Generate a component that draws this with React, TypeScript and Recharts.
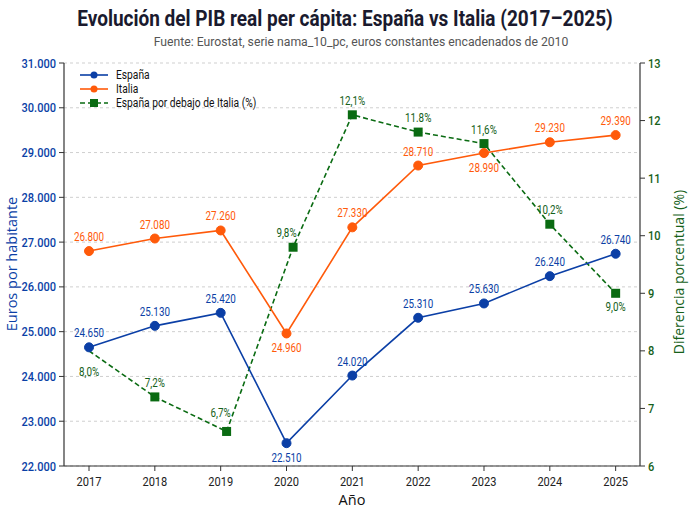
import React from 'react';
import { ComposedChart, Line, XAxis, YAxis, CartesianGrid, LabelList } from 'recharts';

const YEARS = [2017, 2018, 2019, 2020, 2021, 2022, 2023, 2024, 2025];
const ESPANA = [24650, 25130, 25420, 22510, 24020, 25310, 25630, 26240, 26740];
const ITALIA = [26800, 27080, 27260, 24960, 27330, 28710, 28990, 29230, 29390];
const DIFERENCIA = [8.0, 7.2, 6.6, 9.8, 12.1, 11.8, 11.6, 10.2, 9.0];
const DIF_X = [2017, 2018, 2019.09, 2020.1, 2021, 2022, 2023, 2024, 2025];
const DIF_LABELS = ['8,0%', '7,2%', '6,7%', '9,8%', '12,1%', '11.8%', '11,6%', '10,2%', '9,0%'];
const LEFT_TICKS = [22000, 23000, 24000, 25000, 26000, 27000, 28000, 29000, 30000, 31000];
const RIGHT_TICKS = [6, 7, 8, 9, 10, 11, 12, 13];

const BLUE = '#0b3fa6';
const ORANGE = '#ff5a0a';
const GREEN = '#0a6b12';
const GREEN_TXT = '#16611a';
const FONT = "Roboto, 'Noto Sans', sans-serif";
const WIDE = "'Open Sans', 'DejaVu Sans', sans-serif";
const SX = 0.82;

const espData = YEARS.map((y, i) => ({ year: y, v: ESPANA[i] }));
const itaData = YEARS.map((y, i) => ({ year: y, v: ITALIA[i] }));
const difData = DIF_X.map((x, i) => ({ year: x, v: DIFERENCIA[i] }));
const difLabelData = YEARS.map((y, i) => ({ year: y, v: DIFERENCIA[i] }));

const fmtThousands = (n: number) => n.toLocaleString('de-DE');

const ESP_BELOW = [3];
const ITA_BELOW = [3, 6];
const DIF_DY = [25, -10, -14, -10, -10, -10, -10, -10, 18];

function CText({ x, y, anchor = 'middle', size, fill, children, weight, sx = SX }: any) {
  return (
    <text transform={`translate(${x},${y}) scale(${sx},1)`} textAnchor={anchor} fontSize={size}
      fill={fill} fontFamily={FONT} fontWeight={weight}>{children}</text>
  );
}

const valueLabel = (color: string, below: number[], values: number[]) => (p: any) => {
  const { x, y, index } = p;
  const isBelow = below.includes(index);
  return (
    <g key={`l${index}`}>
      <CText x={x} y={isBelow ? y + 19 : y - 10} size={12} fill={color}>{fmtThousands(values[index])}</CText>
    </g>
  );
};

const difLabel = (p: any) => {
  const { x, y, index } = p;
  return (
    <g key={`d${index}`}>
      <CText x={x} y={y + DIF_DY[index]} size={12} fill={GREEN_TXT}>{DIF_LABELS[index]}</CText>
    </g>
  );
};

const squareDot = (p: any) =>
  p.index === 0 ? <g key={`s${p.index}`} /> : (
    <rect key={`s${p.index}`} x={p.cx - 4.5} y={p.cy - 4.5} width={9} height={9} fill={GREEN} />
  );

const XTick = (p: any) => (
  <CText x={p.x} y={p.y + 12} size={13.5} fill="#222">{p.payload.value}</CText>
);
const LTick = (p: any) => (
  <CText x={p.x} y={p.y + 4.5} anchor="end" size={13.5} fill={BLUE} weight={500}>{fmtThousands(p.payload.value)}</CText>
);
const RTick = (p: any) => (
  <CText x={p.x} y={p.y + 4.5} anchor="start" size={13.5} fill={GREEN_TXT} weight={500}>{p.payload.value}</CText>
);

export default function App() {
  return (
    <div style={{ position: 'absolute', left: 0, top: 0, width: 690, height: 517, background: '#fff' }}>
      <ComposedChart width={690} height={517} margin={{ top: 63, right: 0, bottom: 0, left: 0 }}>
        <CartesianGrid yAxisId="l" vertical={false} stroke="#cfcfcf" strokeDasharray="3 3" />
        <XAxis dataKey="year" type="number" domain={[2016.62, 2025.37]} ticks={YEARS} allowDataOverflow
          height={51} tickSize={5} tickLine={{ stroke: '#333' }} axisLine={{ stroke: '#333', strokeWidth: 1.2 }}
          tick={<XTick />} tickMargin={3} />
        <XAxis xAxisId="top" dataKey="year" type="number" domain={[2016.62, 2025.37]} orientation="top"
          height={0} tick={false} tickLine={false} axisLine={{ stroke: '#333', strokeWidth: 1.2 }} />
        <YAxis yAxisId="l" domain={[22000, 31000]} ticks={LEFT_TICKS} width={64} tickSize={5}
          tickLine={{ stroke: '#333' }} axisLine={{ stroke: '#333', strokeWidth: 1.2 }}
          tick={<LTick />} tickMargin={3} />
        <YAxis yAxisId="r" orientation="right" domain={[6, 13]} ticks={RIGHT_TICKS} width={50} tickSize={5}
          tickLine={{ stroke: '#333' }} axisLine={{ stroke: '#333', strokeWidth: 1.2 }}
          tick={<RTick />} tickMargin={3} />
        <Line yAxisId="r" data={difLabelData} dataKey="v" stroke="none" dot={false} activeDot={false}
          isAnimationActive={false} legendType="none">
          <LabelList dataKey="v" content={difLabel} />
        </Line>
        <Line yAxisId="r" data={difData} dataKey="v" stroke={GREEN} strokeWidth={1.6} strokeDasharray="5 3"
          dot={squareDot} activeDot={false} isAnimationActive={false} />
        <Line yAxisId="l" data={itaData} dataKey="v" stroke={ORANGE} strokeWidth={1.6}
          dot={{ r: 4.5, fill: ORANGE, stroke: ORANGE, strokeWidth: 1 }} activeDot={false} isAnimationActive={false}>
          <LabelList dataKey="v" content={valueLabel(ORANGE, ITA_BELOW, ITALIA)} />
        </Line>
        <Line yAxisId="l" data={espData} dataKey="v" stroke={BLUE} strokeWidth={1.6}
          dot={{ r: 4.5, fill: BLUE, stroke: BLUE, strokeWidth: 1 }} activeDot={false} isAnimationActive={false}>
          <LabelList dataKey="v" content={valueLabel(BLUE, ESP_BELOW, ESPANA)} />
        </Line>
      </ComposedChart>
      <svg width={690} height={517} style={{ position: 'absolute', left: 0, top: 0, pointerEvents: 'none' }}>
        <CText x={345} y={26} size={22} weight="bold" fill="#1a1a2e" sx={0.865}>
          Evolución del PIB real per cápita: España vs Italia (2017–2025)
        </CText>
        <CText x={361} y={46} size={13} fill="#555" sx={0.94}>
          Fuente: Eurostat, serie nama_10_pc, euros constantes encadenados de 2010
        </CText>
        <text transform="translate(17,264) rotate(-90)" textAnchor="middle" fontSize={14.5} fontWeight={500} fill={BLUE} fontFamily={WIDE}>
          Euros por habitante
        </text>
        <text transform="translate(684,272) rotate(-90)" textAnchor="middle" fontSize={14} fontWeight={500} fill={GREEN_TXT} fontFamily={WIDE}>
          Diferencia porcentual (%)
        </text>
        <text x={352} y={505} textAnchor="middle" fontSize={14.5} fontWeight={500} fill="#111" fontFamily={WIDE}>Año</text>
        <g>
          <line x1={80} y1={75} x2={108} y2={75} stroke={BLUE} strokeWidth={1.6} />
          <circle cx={94} cy={75} r={3.5} fill={BLUE} />
          <CText x={116} y={79} anchor="start" size={12.5} fill="#111">España</CText>
          <line x1={80} y1={89} x2={108} y2={89} stroke={ORANGE} strokeWidth={1.6} />
          <circle cx={94} cy={89} r={3.5} fill={ORANGE} />
          <CText x={116} y={93} anchor="start" size={12.5} fill="#111">Italia</CText>
          <line x1={80} y1={103} x2={108} y2={103} stroke={GREEN} strokeWidth={1.6} strokeDasharray="5 3" />
          <rect x={90} y={99} width={8} height={8} fill={GREEN} />
          <CText x={116} y={107} anchor="start" size={12.5} fill="#111">España por debajo de Italia (%)</CText>
        </g>
      </svg>
    </div>
  );
}
